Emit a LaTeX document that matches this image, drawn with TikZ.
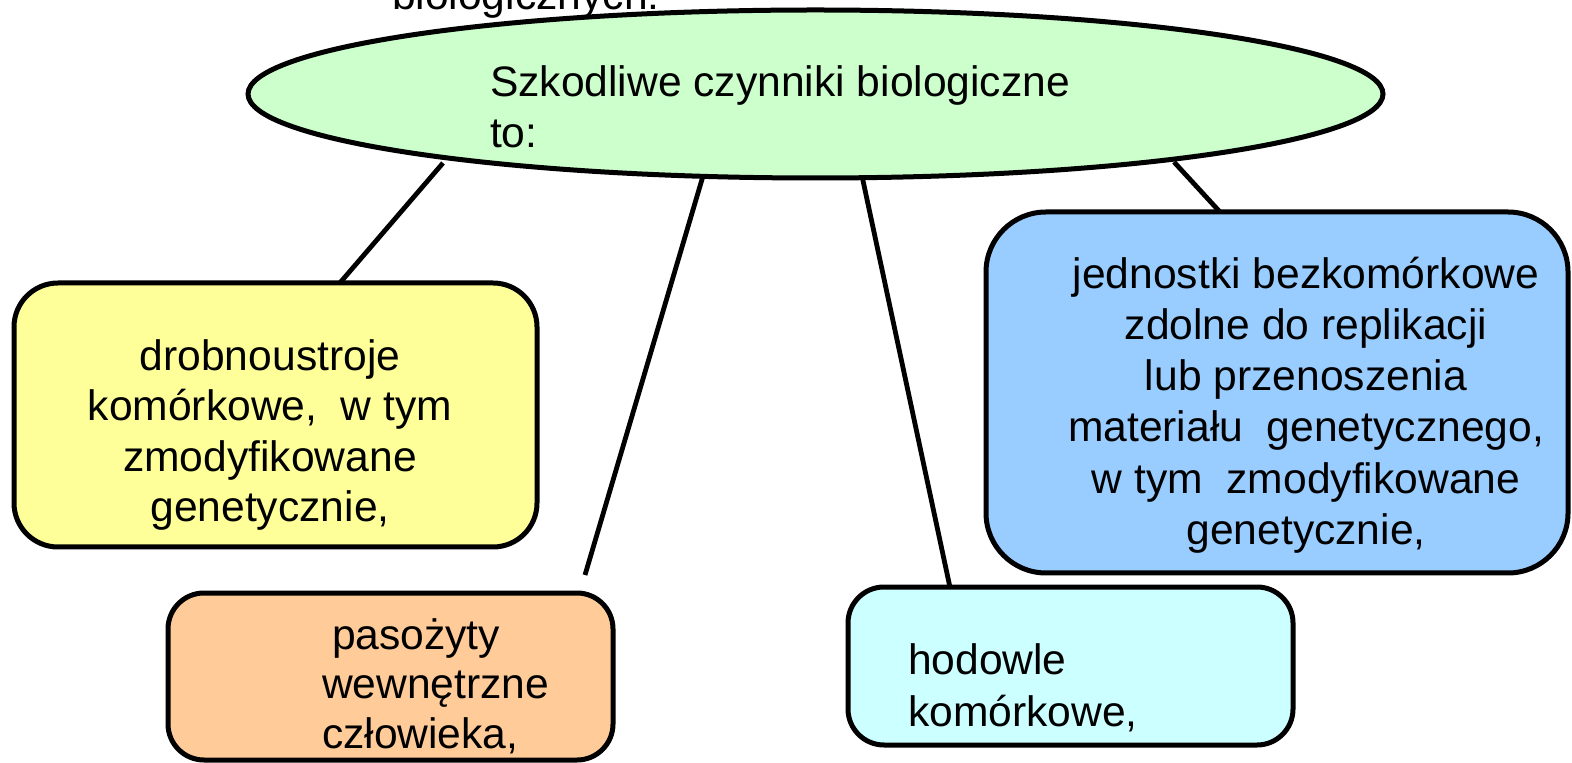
\documentclass[tikz,border=0pt]{standalone}
\usepackage{fontspec}
\setmainfont{Liberation Sans}
\usetikzlibrary{shapes.geometric,calc}
\definecolor{cgreen}{HTML}{CCFFCC}
\definecolor{cyellow}{HTML}{FFFF99}
\definecolor{corange}{HTML}{FFCC99}
\definecolor{ccyan}{HTML}{CCFFFF}
\definecolor{cblue}{HTML}{99CCFF}
\tikzset{
  box/.style={draw=black, line width=2.5pt, inner sep=0pt, outer sep=0pt},
  conn/.style={draw=black, line width=2.4pt},
  txt/.style={inner sep=0pt, outer sep=0pt, font=\fontsize{21.3}{25.5}\selectfont}
}
\begin{document}
\begin{tikzpicture}[x=0.5pt,y=-0.5pt]
\useasboundingbox (0,0) rectangle (1572,763);
\clip (0,0) rectangle (1572,763);
% cut-off title text
\node[txt, anchor=base west] (title) at (392,10) {biologicznych:};
% central ellipse
\node[box, ellipse, fill=cgreen, minimum width=567.5pt, minimum height=84pt] (E) at (815.5,94) {};
\node[txt, anchor=west, align=left] (Et) at (490,107) {Szkodliwe czynniki biologiczne\\to:};
% boxes
\node[box, rounded corners=22pt, fill=cyellow, minimum width=261.5pt, minimum height=132pt] (Y) at (275.5,415) {};
\node[txt, align=center, font=\fontsize{21.3}{25.25}\selectfont] (Yt) at (270,435) {drobnoustroje\\komórkowe,~ w tym\\zmodyfikowane\\genetycznie,};
\node[box, rounded corners=18pt, fill=corange, minimum width=222.5pt, minimum height=83.5pt] (O) at (390.5,676.5) {};
\node[txt, anchor=west, align=left, font=\fontsize{21.3}{24.75}\selectfont] (Ot) at (322,686) {\hspace{5pt}pasożyty\\wewnętrzne\\człowieka,};
\node[box, rounded corners=18pt, fill=ccyan, minimum width=222.5pt, minimum height=79pt] (C) at (1070.5,666) {};
\node[txt, anchor=west, align=left, font=\fontsize{21.3}{26}\selectfont] (Ct) at (908,688) {hodowle\\komórkowe,};
\node[box, rounded corners=30pt, fill=cblue, minimum width=291pt, minimum height=180.5pt] (B) at (1277,392.5) {};
\node[txt, align=center, font=\fontsize{21.3}{25.6}\selectfont] (Bt) at (1306,405) {jednostki bezkomórkowe\\zdolne do replikacji\\lub przenoszenia\\materiału~ genetycznego,\\w tym~ zmodyfikowane\\genetycznie,};
% connector end points at the ellipse
\path (E.center) ++(-372.5,69) coordinate (e1);
\path (E.center) ++(-112.5,82) coordinate (e2);
\path (E.center) ++(46.5,82) coordinate (e3);
\path (E.center) ++(358.5,68) coordinate (e4);
\coordinate (free) at (585,575);
% connectors
\draw[conn] (e1) -- ($(Y.north west)!0.623!(Y.north east)$);
\draw[conn] (e2) -- (free);
\draw[conn] (e3) -- ($(C.north west)!0.229!(C.north east)$);
\draw[conn] (e4) -- ($(B.north west)!0.402!(B.north east)$);
\end{tikzpicture}
\end{document}
